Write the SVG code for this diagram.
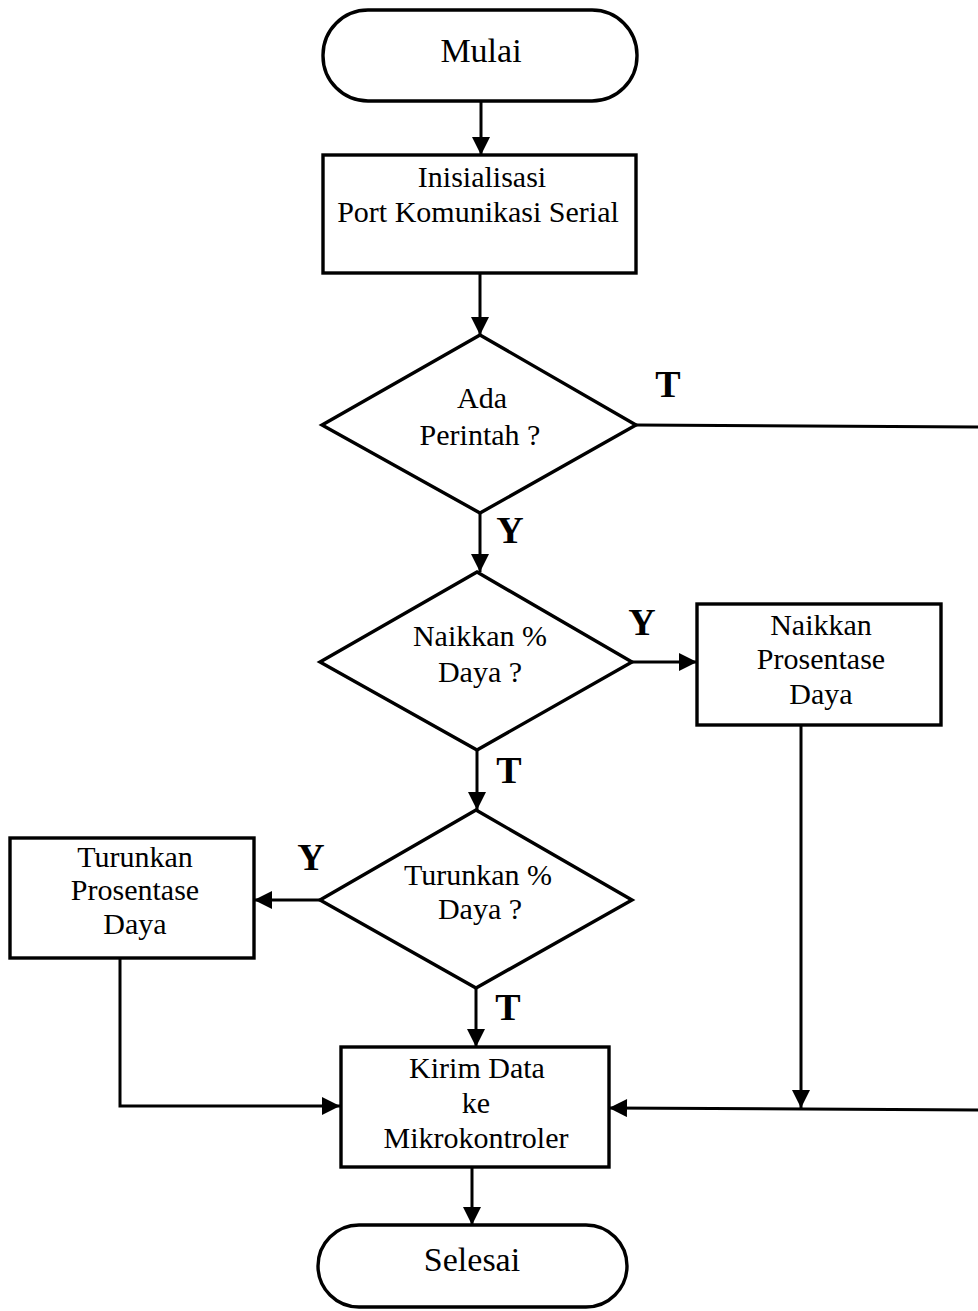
<svg xmlns="http://www.w3.org/2000/svg" width="978" height="1311" viewBox="0 0 978 1311">
<style>
.s{fill:none;stroke:#000;stroke-width:3}
.n{fill:#fff;stroke:#000;stroke-width:3.4}
.t{font-family:"Liberation Serif","Times New Roman",serif;font-size:30px;text-anchor:middle;fill:#000}
.tl{font-size:34px}
.lb{font-family:"Liberation Serif","Times New Roman",serif;font-size:38px;font-weight:bold;text-anchor:middle;fill:#000}
</style>
<defs>
<marker id="ah" viewBox="0 0 10 10" refX="10" refY="5" markerWidth="6.5" markerHeight="6" markerUnits="strokeWidth" orient="auto">
<path d="M0,0 L10,5 L0,10 z" fill="#000"/>
</marker>
</defs>
<g id="connectors">
<line class="s" x1="481" y1="101" x2="481" y2="155" marker-end="url(#ah)"/>
<line class="s" x1="480" y1="273" x2="480" y2="335" marker-end="url(#ah)"/>
<line class="s" x1="636" y1="425" x2="980" y2="427"/>
<line class="s" x1="480" y1="513" x2="480" y2="572" marker-end="url(#ah)"/>
<line class="s" x1="632" y1="662" x2="697" y2="662" marker-end="url(#ah)"/>
<line class="s" x1="801" y1="725" x2="801" y2="1108" marker-end="url(#ah)"/>
<line class="s" x1="477" y1="750" x2="477" y2="810" marker-end="url(#ah)"/>
<line class="s" x1="320" y1="900" x2="254" y2="900" marker-end="url(#ah)"/>
<polyline class="s" points="120,958 120,1106 340,1106" marker-end="url(#ah)"/>
<line class="s" x1="476" y1="988" x2="476" y2="1047" marker-end="url(#ah)"/>
<line class="s" x1="980" y1="1110" x2="609" y2="1108" marker-end="url(#ah)"/>
<line class="s" x1="472" y1="1167" x2="472" y2="1225" marker-end="url(#ah)"/>
</g>
<g id="mulai">
<rect class="n" x="323" y="10" width="314" height="91" rx="45" ry="45"/>
<text class="t tl" x="481" y="62">Mulai</text>
</g>
<g id="init">
<rect class="n" x="323" y="155" width="313" height="118"/>
<text class="t" x="482" y="187">Inisialisasi</text>
<text class="t" x="478" y="222">Port Komunikasi Serial</text>
</g>
<g id="ada-perintah">
<polygon class="n" points="480,335 636,425 480,513 322,425"/>
<text class="t" x="482" y="408">Ada</text>
<text class="t" x="480" y="445">Perintah ?</text>
<text class="lb" x="668" y="397">T</text>
<text class="lb" x="510" y="543">Y</text>
</g>
<g id="naikkan-q">
<polygon class="n" points="477,572 632,662 477,750 320,662"/>
<text class="t" x="480" y="646">Naikkan %</text>
<text class="t" x="480" y="682">Daya ?</text>
<text class="lb" x="642" y="635">Y</text>
<text class="lb" x="509" y="783">T</text>
</g>
<g id="naikkan-box">
<rect class="n" x="697" y="604" width="244" height="121"/>
<text class="t" x="821" y="635">Naikkan</text>
<text class="t" x="821" y="669">Prosentase</text>
<text class="t" x="821" y="704">Daya</text>
</g>
<g id="turunkan-q">
<polygon class="n" points="476,810 632,900 476,988 320,900"/>
<text class="t" x="478" y="885">Turunkan %</text>
<text class="t" x="480" y="919">Daya ?</text>
<text class="lb" x="311" y="870">Y</text>
<text class="lb" x="508" y="1020">T</text>
</g>
<g id="turunkan-box">
<rect class="n" x="10" y="838" width="244" height="120"/>
<text class="t" x="135" y="867">Turunkan</text>
<text class="t" x="135" y="900">Prosentase</text>
<text class="t" x="135" y="934">Daya</text>
</g>
<g id="kirim">
<rect class="n" x="341" y="1047" width="268" height="120"/>
<text class="t" x="477" y="1078">Kirim Data</text>
<text class="t" x="476" y="1113">ke</text>
<text class="t" x="476" y="1148">Mikrokontroler</text>
</g>
<g id="selesai">
<rect class="n" x="318" y="1225" width="309" height="82" rx="41" ry="41"/>
<text class="t tl" x="472" y="1271">Selesai</text>
</g>
</svg>
